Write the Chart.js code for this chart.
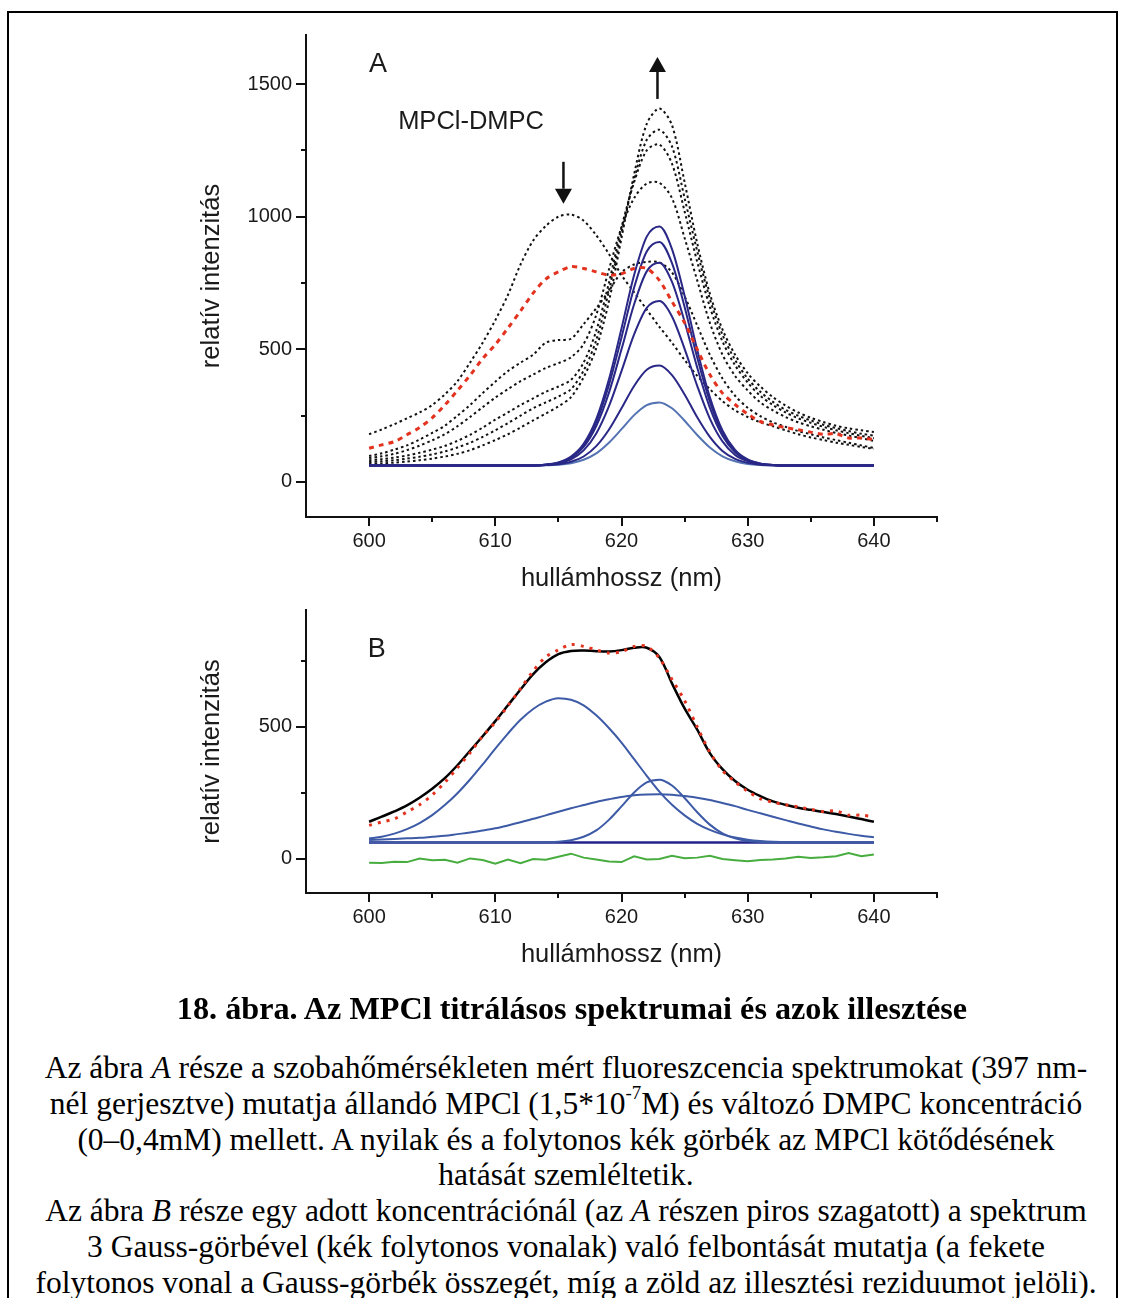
<!DOCTYPE html>
<html>
<head>
<meta charset="utf-8">
<script src="https://cdn.jsdelivr.net/npm/chart.js@4.4.1/dist/chart.umd.min.js"></script>
<style>
html,body{margin:0;padding:0;background:#fff;}
body{width:1124px;height:1298px;position:relative;overflow:hidden;}
#frame{position:absolute;left:7px;top:11px;width:1111px;height:1400px;border:2px solid #000;box-sizing:border-box;}
#cA{position:absolute;left:0;top:0;}
#cB{position:absolute;left:0;top:580px;}
.cap{position:absolute;left:10px;width:1112px;text-align:center;font-family:"Liberation Serif","Times New Roman",serif;color:#000;font-size:31.5px;white-space:nowrap;}
#capTitle{top:990px;line-height:36px;font-weight:bold;font-size:32.2px;left:16px;}
#capBody{top:1050px;line-height:35.8px;}
sup{font-size:60%;line-height:0;position:relative;top:-0.15em;vertical-align:super;}
</style>
</head>
<body>
<div id="frame"></div>
<canvas id="cA" width="1124" height="600"></canvas>
<canvas id="cB" width="1124" height="420"></canvas>
<div class="cap" id="capTitle">18. ábra. Az MPCl titrálásos spektrumai és azok illesztése</div>
<div class="cap" id="capBody">Az ábra <i>A</i> része a szobahőmérsékleten mért fluoreszcencia spektrumokat (397 nm-<br>nél gerjesztve) mutatja állandó MPCl (1,5*10<sup>-7</sup>M) és változó DMPC koncentráció<br>(0–0,4mM) mellett. A nyilak és a folytonos kék görbék az MPCl kötődésének<br>hatását szemléltetik.<br>Az ábra <i>B</i> része egy adott koncentrációnál (az <i>A</i> részen piros szagatott) a spektrum<br>3 Gauss-görbével (kék folytonos vonalak) való felbontását mutatja (a fekete<br>folytonos vonal a Gauss-görbék összegét, míg a zöld az illesztési reziduumot jelöli).</div>
<script>
// ---------- DATA ----------
const wavelengths = [600,601,602,603,604,605,606,607,608,609,610,611,612,613,614,615,616,617,618,619,620,621,622,623,624,625,626,627,628,629,630,631,632,633,634,635,636,637,638,639,640];
const xTickValues = [600,610,620,630,640];
const xMinorTicks = [605,615,625,635,645];
const yTicksA = [0,500,1000,1500];
const yMinorA = [250,750,1250];
const yTicksB = [0,500];
const yMinorB = [250,750];

// Panel A – measured spectra (dotted black), increasing DMPC
const spectrum0 = [180,198,218,240,262,290,330,380,450,525,610,705,820,910,965,1000,1008,985,930,860,780,715,650,585,525,460,400,350,305,270,245,225,210,195,180,168,158,148,140,132,125];
const spectrum1 = [98,108,122,138,160,185,212,250,290,335,378,418,450,480,525,535,540,595,655,720,790,820,830,828,790,700,590,480,390,325,280,248,225,208,192,180,168,158,148,138,128];
const spectrum2 = [90,97,106,120,137,157,180,210,245,282,318,350,380,405,430,448,470,520,630,800,960,1070,1125,1128,1070,920,760,600,480,400,345,300,270,245,225,210,197,185,175,165,155];
const spectrum3 = [82,86,92,100,110,122,136,155,178,205,235,262,290,315,340,360,385,450,570,750,960,1130,1250,1272,1200,1020,830,660,530,440,375,325,290,262,240,223,208,195,184,174,165];
const spectrum4 = [75,78,82,88,95,104,115,130,148,170,195,222,250,278,300,322,350,420,535,720,940,1140,1290,1328,1265,1070,870,690,555,460,390,340,302,272,250,232,216,203,192,182,175];
const spectrum5 = [68,70,73,77,82,88,96,106,120,138,158,180,205,232,258,285,320,395,505,680,920,1160,1350,1408,1345,1130,900,710,575,480,410,360,320,288,262,242,226,212,202,195,188];
// red dashed spectrum (shown in A and B)
const redSpectrum = [127,140,152,178,205,242,290,345,402,465,518,580,645,712,765,792,812,805,792,780,785,805,805,760,680,600,500,405,335,292,256,228,215,205,197,188,180,182,166,166,160];

// Panel A – bound-form Gaussian components (solid blue)
const gaussA1 = [62,62,62,62,62,62,62,62,62,62,62,62,62,62,66,74,96,144,237,386,579,780,925,963,878,702,498,320,194,121,85,70,64,62,62,62,62,62,62,62,62];
const gaussA2 = [62,62,62,62,62,62,62,62,62,62,62,62,62,62,65,73,93,139,226,365,545,733,869,905,825,660,469,303,185,117,83,69,64,62,62,62,62,62,62,62,62];
const gaussA3 = [62,62,62,62,62,62,62,62,62,62,62,62,62,62,65,72,90,132,211,336,500,670,794,826,754,604,431,280,174,112,81,68,64,62,62,62,62,62,62,62,62];
const gaussA4 = [62,62,62,62,62,62,62,62,62,62,62,62,62,62,64,70,85,119,183,285,418,556,656,682,624,502,362,239,153,102,78,67,63,62,62,62,62,62,62,62,62];
const gaussA5 = [62,62,62,62,62,62,62,62,62,62,62,62,62,62,64,67,76,96,135,197,278,362,423,439,403,330,244,170,117,87,72,65,63,62,62,62,62,62,62,62,62];
const gaussNarrow = [62,62,62,62,62,62,62,62,62,62,62,62,62,62,63,65,71,84,108,148,199,252,290,300,278,231,177,130,97,78,68,64,63,62,62,62,62,62,62,62,62];

// Panel B – fit
const gaussBig = [78,84,96,113,136,166,204,249,301,358,418,475,527,568,596,609,603,582,544,496,441,378,315,255,205,165,133,110,93,81,73,68,65,64,63,62,62,62,62,62,62];
const gaussBroad = [72,74,76,78,80,84,88,94,100,108,116,127,139,152,165,179,192,204,216,226,235,241,244,245,243,238,232,223,212,200,186,173,160,147,134,123,112,103,95,88,82];
const baselineB = [62,62,62,62,62,62,62,62,62,62,62,62,62,62,62,62,62,62,62,62,62,62,62,62,62,62,62,62,62,62,62,62,62,62,62,62,62,62,62,62,62];
const fitSum = [141,160,180,203,232,266,306,355,410,465,522,582,642,700,745,776,788,790,787,786,791,800,800,765,665,570,490,401,340,295,262,238,218,205,194,186,178,170,161,151,141];
const residual = [-14,-15,-11,-12,2,-5,-3,-14,2,-4,-18,-2,-16,0,-3,8,20,5,-2,-10,-12,10,-2,0,12,3,5,12,0,-5,-9,-4,-2,2,8,4,6,10,22,10,17];

// ---------- STYLE / LAYOUT ----------
const FONT = '"Liberation Sans", Arial, sans-serif';
const NAVY = '#2a2886', LIGHTBLUE = '#5473b2', BBLUE = '#3d5aa6', RED = '#e3331f', GREEN = '#47ad3f';

function dotted(data){ return {data, borderColor:'#111', borderWidth:2, borderDash:[2.5,3], tension:0.3, cubicInterpolationMode:'default'}; }
function solid(data,color,w){ return {data, borderColor:color, borderWidth:w||2}; }

function decor(cfg){
  return {
    id:'decor'+cfg.name,
    afterDraw(chart){
      const ctx=chart.ctx, xs=chart.scales.x, ys=chart.scales.y, a=chart.chartArea;
      ctx.save();
      ctx.strokeStyle='#111'; ctx.lineWidth=2;
      const seg=(x1,y1,x2,y2)=>{ctx.beginPath();ctx.moveTo(x1,y1);ctx.lineTo(x2,y2);ctx.stroke();};
      xTickValues.forEach(v=>{const p=Math.round(xs.getPixelForValue(v)); seg(p,a.bottom,p,a.bottom+9);});
      xMinorTicks.forEach(v=>{const p=Math.round(xs.getPixelForValue(v)); seg(p,a.bottom,p,a.bottom+5);});
      cfg.yMajor.forEach(v=>{const p=Math.round(ys.getPixelForValue(v)); seg(a.left-10,p,a.left,p);});
      cfg.yMinor.forEach(v=>{const p=Math.round(ys.getPixelForValue(v)); seg(a.left-5,p,a.left,p);});
      // axis titles
      ctx.fillStyle='#1a1a1a';
      ctx.font='25.5px '+FONT; ctx.textAlign='center'; ctx.textBaseline='middle';
      ctx.fillText('hullámhossz (nm)', (a.left+a.right)/2, a.bottom+62);
      ctx.save(); ctx.translate(212,(a.top+a.bottom)/2); ctx.rotate(-Math.PI/2);
      ctx.fillText('relatív intenzitás',0,0); ctx.restore();
      // panel texts
      cfg.texts.forEach(t=>{
        ctx.font=t.size+'px '+FONT; ctx.textAlign='left'; ctx.textBaseline='alphabetic';
        ctx.fillText(t.text, xs.getPixelForValue(t.x), ys.getPixelForValue(t.y));
      });
      // arrows
      ctx.fillStyle='#111';
      cfg.arrows.forEach(ar=>{
        const x=xs.getPixelForValue(ar.x), y0=ys.getPixelForValue(ar.from), y1=ys.getPixelForValue(ar.to);
        const dir = y1>y0 ? 1 : -1, head=15, hw=8.5;
        ctx.lineWidth=2.5; seg(x,y0,x,y1-dir*head);
        ctx.beginPath(); ctx.moveTo(x,y1); ctx.lineTo(x-hw,y1-dir*head); ctx.lineTo(x+hw,y1-dir*head); ctx.closePath(); ctx.fill();
      });
      ctx.restore();
    }
  };
}

function makeChart(id, cfg){
  return new Chart(document.getElementById(id), {
    type:'line',
    data:{labels:wavelengths, datasets:cfg.datasets},
    options:{
      responsive:false, animation:false, devicePixelRatio:1,
      layout:{padding:{left:0,right:187,top:cfg.padTop,bottom:0}},
      plugins:{legend:{display:false}, tooltip:{enabled:false}},
      elements:{point:{radius:0}, line:{cubicInterpolationMode:'monotone', fill:false}},
      scales:{
        x:{type:'linear', min:595, max:645,
           afterFit:s=>{s.height=cfg.xHeight;},
           afterBuildTicks:s=>{s.ticks=xTickValues.map(v=>({value:v}));},
           grid:{display:false, drawTicks:false},
           border:{display:true, color:'#111', width:2},
           ticks:{font:{family:FONT,size:20}, color:'#1a1a1a', padding:12, maxRotation:0, autoSkip:false, callback:v=>String(v)}},
        y:{type:'linear', min:cfg.yMin, max:cfg.yMax,
           afterFit:s=>{s.width=306;},
           afterBuildTicks:s=>{s.ticks=cfg.yMajor.map(v=>({value:v}));},
           grid:{display:false, drawTicks:false},
           border:{display:true, color:'#111', width:2},
           ticks:{font:{family:FONT,size:20}, color:'#1a1a1a', padding:14, autoSkip:false, callback:v=>String(v)}}
      }
    },
    plugins:[decor(cfg)]
  });
}

makeChart('cA', {
  name:'A', padTop:35, xHeight:83, yMin:-132, yMax:1685, yMajor:yTicksA, yMinor:yMinorA,
  texts:[{text:'A', x:600.0, y:1547, size:27},{text:'MPCl-DMPC', x:602.3, y:1330, size:25.5}],
  arrows:[{x:615.4, from:1207, to:1049},{x:622.85, from:1444, to:1602}],
  datasets:[
    {data:redSpectrum, borderColor:RED, borderWidth:3, borderDash:[5,5], tension:0.3, cubicInterpolationMode:'default'},
    solid(gaussA1,NAVY), solid(gaussA2,NAVY), solid(gaussA3,NAVY), solid(gaussA4,NAVY), solid(gaussA5,NAVY), solid(gaussNarrow,LIGHTBLUE),
    dotted(spectrum0), dotted(spectrum1), dotted(spectrum2), dotted(spectrum3), dotted(spectrum4), dotted(spectrum5)
  ]
});

makeChart('cB', {
  name:'B', padTop:30, xHeight:107, yMin:-129, yMax:943, yMajor:yTicksB, yMinor:yMinorB,
  texts:[{text:'B', x:599.9, y:765, size:27}],
  arrows:[],
  datasets:[
    {data:redSpectrum, borderColor:RED, borderWidth:3, borderDash:[3,6], tension:0.3, cubicInterpolationMode:'default'},
    {data:fitSum, borderColor:'#000', borderWidth:2.5, tension:0.35, cubicInterpolationMode:'default'},
    {data:residual, borderColor:GREEN, borderWidth:2, tension:0, cubicInterpolationMode:'default'},
    solid(gaussBig,BBLUE), solid(gaussNarrow,BBLUE), solid(gaussBroad,BBLUE),
    solid(baselineB,'#22228a',2.5)
  ]
});
</script>
</body>
</html>
